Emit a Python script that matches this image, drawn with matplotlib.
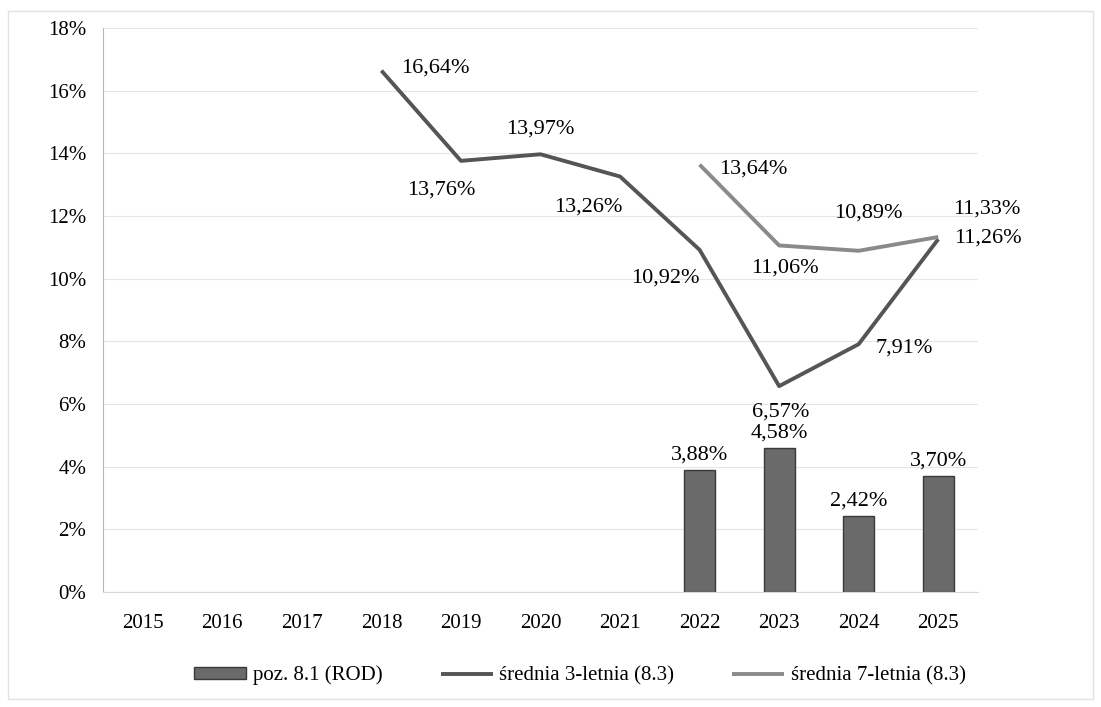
import numpy as np
import matplotlib.pyplot as plt
from matplotlib.patches import Rectangle

years = ['2015', '2016', '2017', '2018', '2019', '2020', '2021', '2022', '2023', '2024', '2025']

# poz. 8.1 (ROD) - bars, 2022-2025
bar_years = ['2022', '2023', '2024', '2025']
bar_vals = [3.88, 4.58, 2.42, 3.70]

# średnia 3-letnia, 2018-2025
avg3_years = ['2018', '2019', '2020', '2021', '2022', '2023', '2024', '2025']
avg3_vals = [16.64, 13.76, 13.97, 13.26, 10.92, 6.57, 7.91, 11.26]

# średnia 7-letnia, 2022-2025
avg7_years = ['2022', '2023', '2024', '2025']
avg7_vals = [13.64, 11.06, 10.89, 11.33]

plt.rcParams['font.family'] = ['Liberation Serif', 'DejaVu Serif']

fig = plt.figure(figsize=(11.01, 7.07), dpi=100)
ax = fig.add_axes([103 / 1101, 1 - 592 / 707, 875 / 1101, 564 / 707])

# outer chart frame
fig.patches.append(Rectangle((8 / 1101, 8 / 707), 1085 / 1101, 688 / 707,
                             transform=fig.transFigure, fill=False,
                             edgecolor='#e2e2e2', lw=1))

x = np.arange(len(years))
pos = {y: i for i, y in enumerate(years)}

bx = [pos[y] for y in bar_years]
bars = ax.bar(bx, bar_vals, width=0.39, color='#6a6a6a', edgecolor='#3a3a3a', lw=1,
              label='poz. 8.1 (ROD)', zorder=2)

x3 = [pos[y] for y in avg3_years]
l3, = ax.plot(x3, avg3_vals, color='#555555', lw=2.8, label='średnia 3-letnia (8.3)',
              zorder=3, solid_capstyle='butt')
x7 = [pos[y] for y in avg7_years]
l7, = ax.plot(x7, avg7_vals, color='#8a8a8a', lw=2.8, label='średnia 7-letnia (8.3)',
              zorder=3, solid_capstyle='butt')

def fmt(v):
    return f'{v:.2f}%'.replace('.', ',')

fs = 16
for xi, v in zip(bx, bar_vals):
    ax.annotate(fmt(v), (xi, v), xytext=(0, 4), textcoords='offset points',
                ha='center', va='bottom', fontsize=fs)

# label offsets (points) relative to each point
off3 = [(39, 2), (-14, -21), (0, 18), (-23, -22), (-25, -20), (1, -19), (33, -3), (36, 1)]
for xi, v, (dx, dy) in zip(x3, avg3_vals, off3):
    ax.annotate(fmt(v), (xi, v), xytext=(dx, dy), textcoords='offset points',
                ha='center', va='center', fontsize=fs)

off7 = [(39, -3), (4, -16), (7, 27), (35, 20)]
for xi, v, (dx, dy) in zip(x7, avg7_vals, off7):
    ax.annotate(fmt(v), (xi, v), xytext=(dx, dy), textcoords='offset points',
                ha='center', va='center', fontsize=fs)

ax.set_xlim(-0.5, 10.5)
ax.set_ylim(0, 18)
ax.set_yticks(np.arange(0, 19, 2))
ax.set_yticklabels([f'{t}%' for t in range(0, 19, 2)], fontsize=15)
ax.set_xticks(x)
ax.set_xticklabels(years, fontsize=15)
ax.tick_params(length=0)
ax.tick_params(axis='x', pad=16)
ax.tick_params(axis='y', pad=12)
ax.grid(axis='y', color='#e6e6e6', lw=0.8, zorder=0)
ax.set_axisbelow(True)
for s in ['top', 'right']:
    ax.spines[s].set_visible(False)
ax.spines['left'].set_color('#b8b8b8')
ax.spines['bottom'].set_color('#d8d8d8')

ax.legend([bars, l3, l7], ['poz. 8.1 (ROD)', 'średnia 3-letnia (8.3)', 'średnia 7-letnia (8.3)'],
          loc='center', bbox_to_anchor=(0.545, -0.148), ncol=3, frameon=False,
          fontsize=15, handlelength=2.5, handleheight=0.45, handletextpad=0.3,
          columnspacing=2.8)

fig.savefig('out.png', dpi=100)
